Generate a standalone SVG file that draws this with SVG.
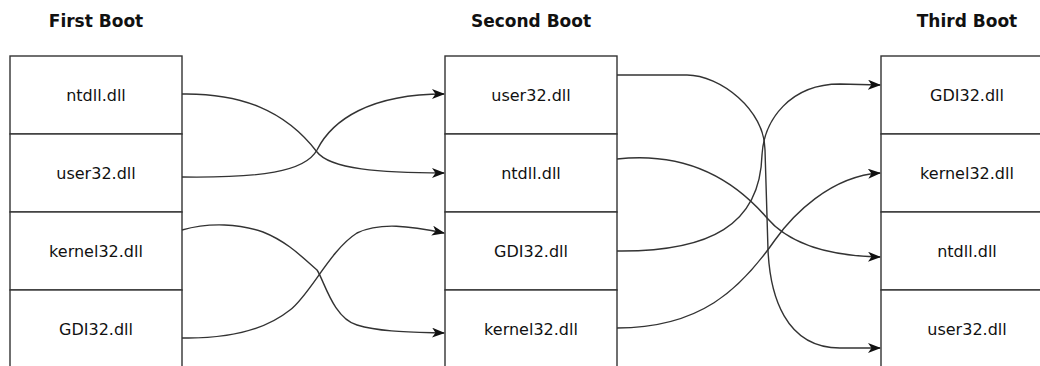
<svg xmlns="http://www.w3.org/2000/svg" width="1040" height="366" viewBox="0 0 1040 366">
<style>
.box{fill:#fff;stroke:#333;stroke-width:1.4}
.lbl{font-family:"DejaVu Sans",sans-serif;font-size:16px;fill:#111;text-anchor:middle}
.ttl{font-family:"DejaVu Sans",sans-serif;font-size:17px;font-weight:bold;fill:#111;text-anchor:middle}
.edge{fill:none;stroke:#333;stroke-width:1.4;marker-end:url(#arr)}
</style>
<defs>
<marker id="arr" markerUnits="userSpaceOnUse" markerWidth="13" markerHeight="10" viewBox="0 0 13 10" refX="12" refY="5" orient="auto">
<path d="M0,0 L13,5 L0,10 L3.5,5 z" fill="#111"/>
</marker>
</defs>
<rect width="1040" height="366" fill="#fff"/>
<text class="ttl" x="96" y="27">First Boot</text>
<text class="ttl" x="531" y="27">Second Boot</text>
<text class="ttl" x="967" y="27">Third Boot</text>
<g id="b1-ntdll"><rect class="box" x="10" y="56" width="172" height="78"/><text class="lbl" x="96" y="101">ntdll.dll</text></g>
<g id="b1-user32"><rect class="box" x="10" y="134" width="172" height="78"/><text class="lbl" x="96" y="179">user32.dll</text></g>
<g id="b1-kernel32"><rect class="box" x="10" y="212" width="172" height="78"/><text class="lbl" x="96" y="257">kernel32.dll</text></g>
<g id="b1-gdi32"><rect class="box" x="10" y="290" width="172" height="80"/><text class="lbl" x="96" y="335">GDI32.dll</text></g>
<g id="b2-user32"><rect class="box" x="445" y="56" width="172" height="78"/><text class="lbl" x="531" y="101">user32.dll</text></g>
<g id="b2-ntdll"><rect class="box" x="445" y="134" width="172" height="78"/><text class="lbl" x="531" y="179">ntdll.dll</text></g>
<g id="b2-gdi32"><rect class="box" x="445" y="212" width="172" height="78"/><text class="lbl" x="531" y="257">GDI32.dll</text></g>
<g id="b2-kernel32"><rect class="box" x="445" y="290" width="172" height="80"/><text class="lbl" x="531" y="335">kernel32.dll</text></g>
<g id="b3-gdi32"><rect class="box" x="881" y="56" width="172" height="78"/><text class="lbl" x="967" y="101">GDI32.dll</text></g>
<g id="b3-kernel32"><rect class="box" x="881" y="134" width="172" height="78"/><text class="lbl" x="967" y="179">kernel32.dll</text></g>
<g id="b3-ntdll"><rect class="box" x="881" y="212" width="172" height="78"/><text class="lbl" x="967" y="257">ntdll.dll</text></g>
<g id="b3-user32"><rect class="box" x="881" y="290" width="172" height="80"/><text class="lbl" x="967" y="335">user32.dll</text></g>
<g id="connectors">
<path class="edge" d="M182,94 C240,93 285,110 317,152 C330,169 380,173 444,173"/>
<path class="edge" d="M182,177 C260,178 305,172 317,150 C332,120 370,94 444,94"/>
<path class="edge" d="M182,230 C210,222 240,224 263,232 C288,242 303,258 317,270 C324,280 333,318 357,325 C380,332 410,332 444,333"/>
<path class="edge" d="M182,338 C230,339 265,330 290,310 C310,295 330,250 357,233 C380,222 410,226 444,233"/>
<path class="edge" d="M617,75 L687,75 C720,75 765,110 765,150 L768,250 C770,295 785,348 840,348 L880,348"/>
<path class="edge" d="M617,159 C680,152 730,175 767,218 C790,245 830,256 880,257"/>
<path class="edge" d="M617,251 C710,252 760,225 762,155 C764,120 790,84 840,84 L880,85"/>
<path class="edge" d="M617,328 C700,328 740,290 775,240 C792,216 830,176 880,173"/>
</g>
</svg>
